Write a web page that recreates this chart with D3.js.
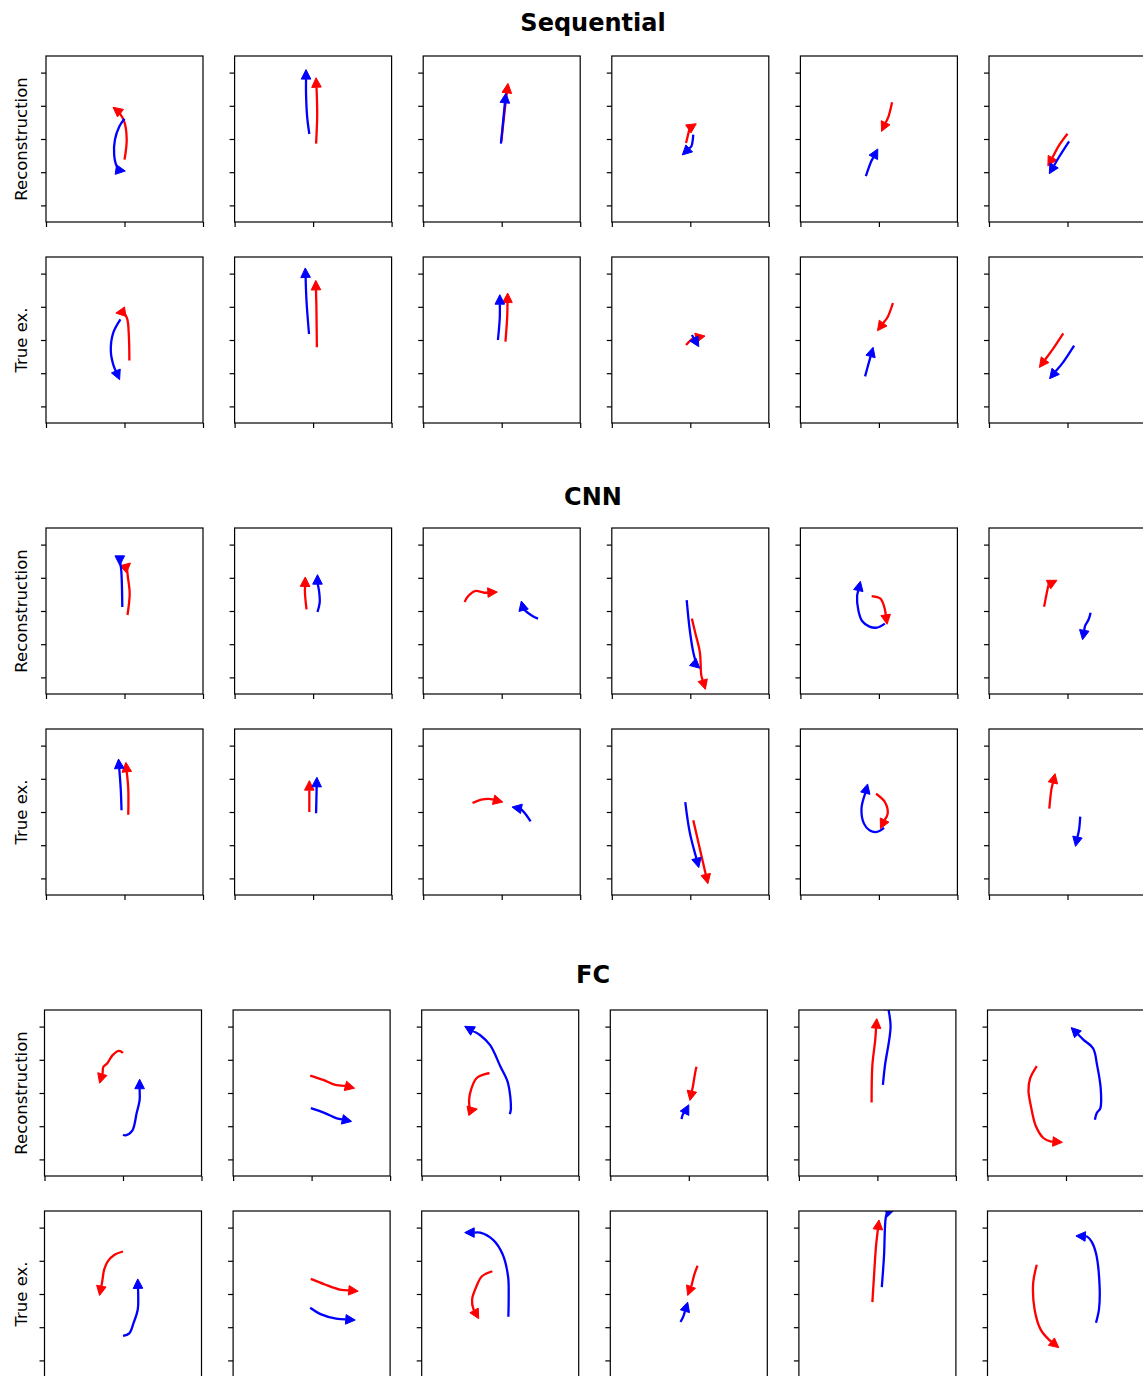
<!DOCTYPE html>
<html>
<head>
<meta charset="utf-8">
<script src="https://cdn.jsdelivr.net/npm/d3@7"></script>
<style>
  body { margin: 0; background: #fff; }
  svg { display: block; font-family: "DejaVu Sans", sans-serif; }
</style>
</head>
<body>
<div id="chart"></div>
<script>
// ---- data (trajectories in axis units, x and y in [-5, 5]) ----
const groupNames = ["Sequential", "CNN", "FC"];
const rowLabels = ["Reconstruction", "True ex."];
const xTicks = [-5, 0, 5];
const yTicks = [-4, -2, 0, 2, 4];

const seqRecon = [
  { red: [[0.0,-1.24],[0.14,-0.04],[-0.02,1.06],[-0.38,1.65],[-0.73,1.91]],
    blue: [[0.0,1.22],[-0.33,0.76],[-0.61,-0.04],[-0.66,-0.94],[-0.5,-1.63],[-0.3,-1.88],[0.05,-1.93]] },
  { red: [[0.19,-0.28],[0.26,1.35],[0.24,2.55],[0.19,3.69]],
    blue: [[-0.24,0.30],[-0.38,1.35],[-0.45,2.75],[-0.45,4.18]] },
  { red: [[-0.02,-0.14],[0.17,1.55],[0.40,3.35]],
    blue: [[-0.05,-0.28],[0.12,1.35],[0.26,2.75]] },
  { red: [[-0.27,-0.24],[-0.04,0.66],[0.38,0.92]],
    blue: [[0.19,0.26],[0.07,-0.44],[-0.51,-0.96]] },
  { red: [[0.84,2.21],[0.61,1.35],[0.17,0.46]],
    blue: [[-0.83,-2.23],[-0.48,-1.33],[-0.07,-0.60]] },
  { red: [[0.0,0.32],[-0.51,-0.34],[-1.25,-1.63]],
    blue: [[0.10,-0.14],[-0.51,-1.04],[-1.16,-2.09]] }
];
const seqTrue = [
  { red: [[0.31,-1.24],[0.28,0.2],[0.17,1.29],[-0.07,1.69],[-0.55,1.62]],
    blue: [[-0.26,1.24],[-0.73,0.40],[-0.87,-0.70],[-0.68,-1.59],[-0.31,-2.39]] },
  { red: [[0.24,-0.44],[0.21,1.99],[0.17,3.59]],
    blue: [[-0.26,0.36],[-0.42,2.35],[-0.50,4.34]] },
  { red: [[0.24,-0.10],[0.35,1.39],[0.38,2.83]],
    blue: [[-0.24,0.0],[-0.12,1.39],[-0.12,2.73]] },
  { red: [[-0.27,-0.30],[0.19,0.10],[0.94,0.24]],
    blue: [[0.10,0.30],[0.54,-0.40]] },
  { red: [[0.89,2.23],[0.56,1.39],[-0.09,0.56]],
    blue: [[-0.88,-2.19],[-0.65,-1.39],[-0.37,-0.44]] },
  { red: [[-0.27,0.40],[-0.97,-0.60],[-1.79,-1.65]],
    blue: [[0.42,-0.34],[-0.27,-1.33],[-1.14,-2.33]] }
];
const cnnRecon = [
  { red: [[0.19,-0.24],[0.33,1.06],[0.21,2.09],[0.14,2.69],[0.38,2.89]],
    blue: [[-0.14,0.24],[-0.21,2.49],[-0.30,3.05],[-0.30,2.75]] },
  { red: [[-0.42,0.10],[-0.52,1.10],[-0.50,2.05]],
    blue: [[0.28,-0.06],[0.42,0.50],[0.38,1.20],[0.28,1.69],[0.28,2.19]] },
  { red: [[-2.36,0.54],[-2.17,0.86],[-1.70,1.20],[-1.11,1.10],[-0.28,1.14]],
    blue: [[2.31,-0.46],[1.96,-0.30],[1.60,-0.06],[1.37,0.14],[1.25,0.60]] },
  { red: [[0.10,-0.46],[0.31,-1.29],[0.61,-2.49],[0.70,-3.88],[0.96,-4.72]],
    blue: [[-0.23,0.66],[-0.04,-1.10],[0.19,-2.49],[0.42,-3.29],[0.61,-3.45]] },
  { red: [[-0.46,0.90],[0.10,0.74],[0.38,0.10],[0.52,-0.80]],
    blue: [[0.38,-0.76],[-0.13,-1.0],[-0.60,-0.94],[-1.07,-0.60],[-1.30,0.0],[-1.39,0.90],[-1.18,1.79]] },
  { red: [[-1.49,0.26],[-1.40,0.70],[-1.21,1.59],[-0.67,1.85]],
    blue: [[1.47,-0.10],[1.35,-0.50],[1.12,-0.90],[0.96,-1.73]] }
];
const cnnTrue = [
  { red: [[0.24,-0.16],[0.24,1.39],[0.09,2.99]],
    blue: [[-0.19,0.10],[-0.24,1.39],[-0.38,3.19]] },
  { red: [[-0.24,0.0],[-0.24,1.89]],
    blue: [[0.19,-0.08],[0.24,2.09]] },
  { red: [[-1.86,0.54],[-1.3,0.74],[-0.7,0.78],[0.07,0.60]],
    blue: [[1.84,-0.56],[1.5,-0.1],[1.2,0.2],[0.66,0.30]] },
  { red: [[0.19,-0.50],[1.12,-4.32]],
    blue: [[-0.32,0.60],[-0.04,-1.20],[0.54,-3.35]] },
  { red: [[-0.18,1.10],[0.38,0.60],[0.56,-0.10],[0.10,-1.0]],
    blue: [[0.33,-0.96],[-0.13,-1.20],[-0.60,-1.10],[-0.95,-0.70],[-1.11,0.20],[-0.72,1.69]] },
  { red: [[-1.16,0.20],[-1.02,1.39],[-0.79,2.31]],
    blue: [[0.81,-0.28],[0.74,-1.04],[0.51,-2.07]] }
];
const fcRecon = [
  { red: [[0.0,2.42],[-0.26,2.54],[-0.66,2.28],[-1.01,1.78],[-1.25,1.58],[-1.30,1.19],[-1.49,0.59]],
    blue: [[0.0,-2.51],[0.17,-2.55],[0.59,-2.27],[0.87,-1.21],[1.06,-0.41],[1.06,0.15],[1.06,0.83]] },
  { red: [[-0.09,1.05],[0.73,0.79],[1.51,0.49],[2.15,0.43],[2.74,0.29]],
    blue: [[-0.05,-0.91],[0.85,-1.21],[1.56,-1.51],[2.55,-1.71]] },
  { red: [[-0.68,1.19],[-0.92,1.15],[-1.51,0.89],[-1.86,0.19],[-1.98,-0.41],[-1.93,-1.05],[-1.46,-0.97]],
    blue: [[0.61,-1.27],[0.68,-0.97],[0.50,0.59],[0.02,1.58],[-0.64,2.88],[-1.27,3.48],[-2.26,4.02]] },
  { red: [[0.49,1.58],[0.42,1.29],[0.26,0.39],[0.07,-0.45]],
    blue: [[-0.46,-1.57],[-0.39,-1.31],[-0.16,-1.01],[0.0,-0.71]] },
  { red: [[-0.37,-0.57],[-0.32,1.68],[-0.14,3.18],[-0.04,4.48]],
    blue: [[0.35,0.49],[0.47,1.58],[0.84,3.98],[0.72,4.98],[0.66,5.6]] },
  { red: [[-1.86,1.62],[-2.28,0.89],[-2.39,0.15],[-2.23,-0.81],[-1.93,-1.97],[-1.44,-2.71],[-1.0,-2.91],[-0.23,-2.97]],
    blue: [[1.84,-1.61],[1.96,-1.21],[2.19,-0.91],[2.21,0.29],[1.98,1.68],[1.73,2.68],[1.10,3.22],[0.33,3.94]] }
];
const fcTrue = [
  { red: [[0.0,2.56],[-0.54,2.36],[-0.97,1.96],[-1.20,1.47],[-1.32,0.77],[-1.49,-0.09]],
    blue: [[0.0,-2.53],[0.40,-2.37],[0.68,-1.73],[0.94,-0.93],[0.97,-0.13],[0.94,0.91]] },
  { red: [[-0.05,0.91],[0.85,0.57],[1.79,0.27],[2.97,0.17]],
    blue: [[-0.09,-0.83],[0.61,-1.23],[1.56,-1.49],[2.78,-1.57]] },
  { red: [[-0.50,1.37],[-1.16,1.07],[-1.51,0.47],[-1.79,-0.33],[-1.70,-0.93],[-1.37,-1.49]],
    blue: [[0.52,-1.37],[0.54,-0.13],[0.50,1.07],[0.14,2.42],[-0.45,3.26],[-1.27,3.70],[-2.26,3.70]] },
  { red: [[0.56,1.70],[0.35,1.17],[0.19,0.57],[-0.07,-0.09]],
    blue: [[-0.53,-1.69],[-0.34,-1.33],[-0.07,-0.49]] },
  { red: [[-0.32,-0.49],[-0.23,0.87],[-0.09,2.86],[0.10,4.46]],
    blue: [[0.28,0.41],[0.42,2.26],[0.54,4.66],[0.66,4.96],[1.12,5.1]] },
  { red: [[-1.86,1.76],[-2.09,0.67],[-2.00,-0.93],[-1.62,-2.13],[-1.11,-2.73],[-0.46,-3.23]],
    blue: [[1.91,-1.73],[2.10,-0.93],[2.14,0.47],[1.91,2.46],[1.63,3.16],[1.33,3.46],[0.63,3.50]] }
];

const groupRows = [[seqRecon, seqTrue], [cnnRecon, cnnTrue], [fcRecon, fcTrue]];

// ---- layout ----
const WIDTH = 1143, HEIGHT = 1376;
const W = 157, H = 166;
const colStep = 188.6;
const groupLeft = [46, 46, 44.5];
const rowTops = [[56, 257], [528, 729], [1010, 1211]];
const titleY = [31, 505, 983];

const svg = d3.select("#chart").append("svg")
  .attr("width", WIDTH)
  .attr("height", HEIGHT);

const x = d3.scaleLinear().domain([-5, 5]).range([0, W]);
const y = d3.scaleLinear().domain([-5, 5]).range([H, 0]);

const line = d3.line()
  .x(d => d[0])
  .y(d => d[1])
  .curve(d3.curveCatmullRom.alpha(0.5));

const headLen = 9.5, headHalf = 4.8;

function drawTrack(g, pts, color) {
  const p = pts.map(d => [x(d[0]), y(d[1])]);
  const n = p.length;
  const tip = p[n - 1], prev = p[n - 2];
  const dx = tip[0] - prev[0], dy = tip[1] - prev[1];
  const len = Math.hypot(dx, dy) || 1;
  const ux = dx / len, uy = dy / len;
  const base = [tip[0] - ux * headLen, tip[1] - uy * headLen];
  const body = p.slice(0, n - 1).concat([len > headLen ? base : prev]);

  g.append("path")
    .attr("d", line(body))
    .attr("fill", "none")
    .attr("stroke", color)
    .attr("stroke-width", 2.3)
    .attr("stroke-linejoin", "round");

  g.append("path")
    .attr("d", `M${tip[0]},${tip[1]}L${base[0] - uy * headHalf},${base[1] + ux * headHalf}L${base[0] + uy * headHalf},${base[1] - ux * headHalf}Z`)
    .attr("fill", color)
    .attr("stroke", color)
    .attr("stroke-width", 1);
}

groupRows.forEach((rows, gi) => {
  svg.append("text")
    .attr("x", 593)
    .attr("y", titleY[gi])
    .attr("text-anchor", "middle")
    .style("font-size", "24px")
    .style("font-weight", "bold")
    .text(groupNames[gi]);

  rows.forEach((panels, ri) => {
    const top = rowTops[gi][ri];

    svg.append("text")
      .attr("transform", `translate(27,${top + H / 2}) rotate(-90)`)
      .attr("text-anchor", "middle")
      .style("font-size", "16.5px")
      .text(rowLabels[ri]);

    panels.forEach((pan, ci) => {
      const left = groupLeft[gi] + ci * colStep;
      const g = svg.append("g").attr("transform", `translate(${left},${top})`);
      const clipId = `clip-${gi}-${ri}-${ci}`;
      g.append("clipPath").attr("id", clipId)
        .append("rect").attr("width", W).attr("height", H);

      const ax = g.append("g")
        .attr("transform", `translate(0,${H})`)
        .call(d3.axisBottom(x).tickValues(xTicks).tickFormat("").tickSize(5).tickSizeOuter(0));
      const ay = g.append("g")
        .call(d3.axisLeft(y).tickValues(yTicks).tickFormat("").tickSize(5).tickSizeOuter(0));
      [ax, ay].forEach(a => {
        a.select(".domain").remove();
        a.selectAll("line").attr("stroke", "#000").attr("stroke-width", 1.2);
      });

      const marks = g.append("g").attr("clip-path", `url(#${clipId})`);
      drawTrack(marks, pan.red, "#ff0000");
      drawTrack(marks, pan.blue, "#0000ff");

      g.append("rect")
        .attr("width", W).attr("height", H)
        .attr("fill", "none")
        .attr("stroke", "#000")
        .attr("stroke-width", 1.2);
    });
  });
});
</script>
</body>
</html>
